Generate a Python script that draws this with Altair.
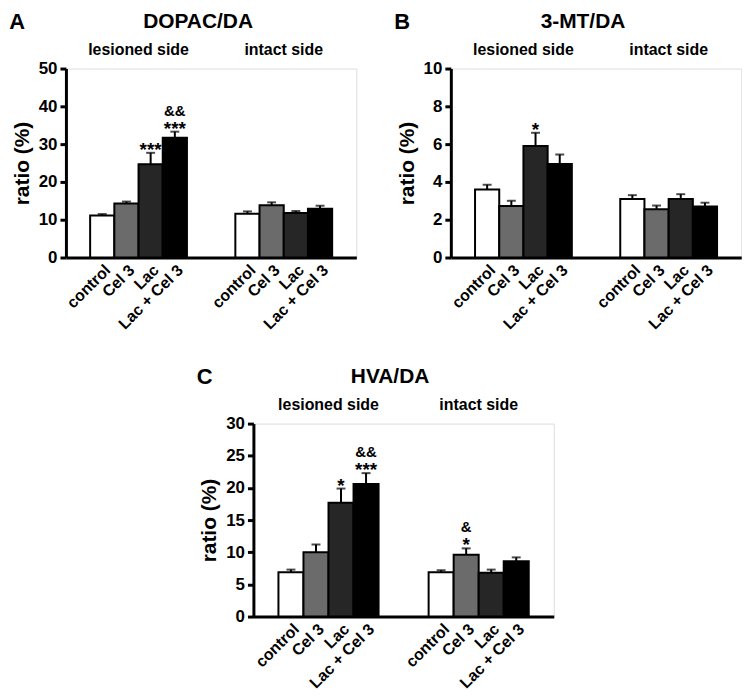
import altair as alt
import pandas as pd

groups = ["control", "Cel 3", "Lac", "Lac + Cel 3"]
sides = ["lesioned side", "intact side"]
bar_colors = ["#ffffff", "#6b6b6b", "#262626", "#000000"]

# Panel A: DOPAC/DA
dopac_les = [11.1, 14.3, 24.7, 31.7]
dopac_les_err = [0.4, 0.5, 3.0, 1.6]
dopac_int = [11.6, 13.8, 11.8, 12.9]
dopac_int_err = [0.6, 0.8, 0.5, 0.8]
dopac_les_star = ["", "", "***", "***"]
dopac_les_amp = ["", "", "", "&&"]
dopac_int_star = ["", "", "", ""]
dopac_int_amp = ["", "", "", ""]

# Panel B: 3-MT/DA
mt_les = [3.6, 2.73, 5.9, 4.95]
mt_les_err = [0.25, 0.27, 0.7, 0.5]
mt_int = [3.1, 2.55, 3.1, 2.7]
mt_int_err = [0.2, 0.2, 0.25, 0.2]
mt_les_star = ["", "", "*", ""]
mt_les_amp = ["", "", "", ""]
mt_int_star = ["", "", "", ""]
mt_int_amp = ["", "", "", ""]

# Panel C: HVA/DA
hva_les = [6.9, 10.0, 17.7, 20.6]
hva_les_err = [0.4, 1.2, 2.2, 1.7]
hva_int = [6.9, 9.6, 6.8, 8.6]
hva_int_err = [0.3, 1.0, 0.5, 0.6]
hva_les_star = ["", "", "*", "***"]
hva_les_amp = ["", "", "", "&&"]
hva_int_star = ["", "*", "", ""]
hva_int_amp = ["", "&", "", ""]

FONT = "Liberation Sans"


def panel(letter, title, les, les_err, intact, int_err, st_l, amp_l, st_i, amp_i,
          ymax, ystep, W, H):
    cats = [f"L|{g}" for g in groups] + ["g1|", "g2|"] + [f"I|{g}" for g in groups]
    rows = []
    for pre, vals, errs, sts, amps in (("L", les, les_err, st_l, amp_l),
                                       ("I", intact, int_err, st_i, amp_i)):
        for g, v, e, s, a in zip(groups, vals, errs, sts, amps):
            rows.append({"cat": f"{pre}|{g}", "grp": g, "value": v,
                         "top": v + e, "star": s, "amp": a})
    df = pd.DataFrame(rows)

    xscale = alt.Scale(domain=cats, paddingInner=0, paddingOuter=1)
    xaxis = alt.Axis(title=None, labelAngle=-45, ticks=False,
                     labelExpr="split(datum.value, '|')[1]",
                     domainWidth=3, domainColor="black",
                     labelFontSize=16, labelFontWeight="bold", labelColor="black",
                     labelPadding=4, labelFont=FONT)
    yscale = alt.Scale(domain=[0, ymax], nice=False)
    yaxis = alt.Axis(title="ratio (%)", values=list(range(0, ymax + 1, ystep)),
                     grid=False, domainWidth=3, domainColor="black",
                     tickWidth=3, tickSize=6, tickColor="black",
                     labelFontSize=17, labelFontWeight="bold", labelColor="black",
                     labelPadding=3, labelFont=FONT,
                     titleFontSize=21, titleFontWeight="bold", titleColor="black",
                     titlePadding=6, titleFont=FONT)
    x = alt.X("cat:N", scale=xscale, axis=xaxis)

    base = alt.Chart(df)
    bars = base.mark_bar(stroke="black", strokeWidth=2).encode(
        x=x,
        y=alt.Y("value:Q", scale=yscale, axis=yaxis),
        color=alt.Color("grp:N", scale=alt.Scale(domain=groups, range=bar_colors),
                        legend=None),
    )
    stems = base.mark_rule(color="black", strokeWidth=2).encode(
        x=x, y=alt.Y("value:Q", scale=yscale, axis=yaxis), y2="top:Q")
    caps = base.mark_tick(color="black", thickness=2, size=9).encode(
        x=x, y=alt.Y("top:Q", scale=yscale, axis=yaxis))
    stars = base.mark_text(fontSize=19, fontWeight="bold", baseline="alphabetic",
                           dy=3, color="black", font=FONT).encode(
        x=x, y=alt.Y("top:Q", scale=yscale, axis=yaxis), text="star:N")
    amps = base.mark_text(fontSize=15, fontWeight="bold", baseline="alphabetic",
                          dy=-16, color="black", font=FONT).encode(
        x=x, y=alt.Y("top:Q", scale=yscale, axis=yaxis), text="amp:N")

    side_df = pd.DataFrame({"cat": ["L|Lac", "I|Lac"], "side": sides})
    side_lbl = alt.Chart(side_df).mark_text(
        fontSize=16, fontWeight="bold", baseline="middle", color="black", font=FONT
    ).encode(
        x=alt.X("cat:N", bandPosition=0, scale=xscale, axis=xaxis),
        y=alt.value(-19),
        text="side:N",
    )
    ttl = alt.Chart(pd.DataFrame({"t": [title]})).mark_text(
        fontSize=21, fontWeight="bold", baseline="middle", align="center",
        color="black", font=FONT
    ).encode(x=alt.value(W * 0.455), y=alt.value(-47), text="t:N")
    let = alt.Chart(pd.DataFrame({"t": [letter]})).mark_text(
        fontSize=22, fontWeight="bold", baseline="middle", align="left",
        color="black", font=FONT
    ).encode(x=alt.value(-57), y=alt.value(-47), text="t:N")

    return alt.layer(bars, stems, caps, stars, amps, side_lbl, ttl, let).properties(
        width=W, height=H)


A = panel("A", "DOPAC/DA", dopac_les, dopac_les_err, dopac_int, dopac_int_err,
          dopac_les_star, dopac_les_amp, dopac_int_star, dopac_int_amp, 50, 10, 292, 190)
B = panel("B", "3-MT/DA", mt_les, mt_les_err, mt_int, mt_int_err,
          mt_les_star, mt_les_amp, mt_int_star, mt_int_amp, 10, 2, 292, 190)
C = panel("C", "HVA/DA", hva_les, hva_les_err, hva_int, hva_int_err,
          hva_les_star, hva_les_amp, hva_int_star, hva_int_amp, 30, 5, 302, 194)

chart = alt.vconcat(
    alt.hconcat(A, B, spacing=36),
    C,
    spacing=32,
    center=True,
).properties(
    padding={"left": 0, "top": 0, "right": 0, "bottom": 0}
).configure_view(stroke=None).configure(font=FONT, background="white")

chart.save("out.html", embed_options={"renderer": "svg", "actions": False})
